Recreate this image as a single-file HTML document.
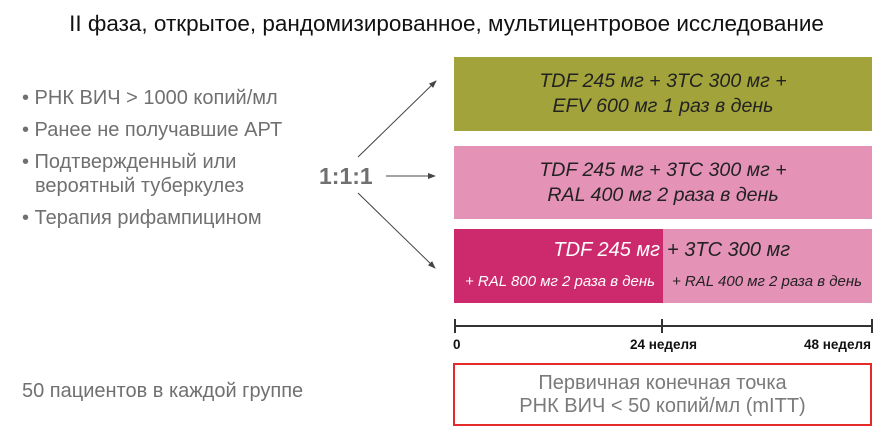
<!DOCTYPE html>
<html><head><meta charset="utf-8"><style>
body{margin:0;width:883px;height:437px;background:#fff;position:relative;overflow:hidden;font-family:"Liberation Sans","DejaVu Sans",sans-serif}
.a{position:absolute;white-space:nowrap}
.box{position:absolute;left:454px;width:418px;}
.bt{position:absolute;width:100%;text-align:center;font-style:italic;font-size:19.6px;color:#222;line-height:25px}
.g{color:#707070;font-size:20px}
</style></head><body>
<div class="a" style="left:0;width:893px;text-align:center;top:11px;font-size:22.5px;color:#111">II фаза, открытое, рандомизированное, мультицентровое исследование</div>

<div class="a g" style="left:22px;top:87px">• РНК ВИЧ &gt; 1000 копий/мл</div>
<div class="a g" style="left:22px;top:119px">• Ранее не получавшие АРТ</div>
<div class="a g" style="left:22px;top:151px">• Подтвержденный или</div>
<div class="a g" style="left:35px;top:175px">вероятный туберкулез</div>
<div class="a g" style="left:22px;top:207px">• Терапия рифампицином</div>
<div class="a" style="left:319px;top:163px;font-size:23px;font-weight:bold;color:#707070">1:1:1</div>
<div class="a g" style="left:22px;top:380px">50 пациентов в каждой группе</div>

<svg class="a" style="left:0;top:0" width="883" height="437">
<defs><marker id="m" markerWidth="8" markerHeight="8" refX="7" refY="4" orient="auto" markerUnits="userSpaceOnUse"><path d="M0,1 L8,4 L0,7z" fill="#444"/></marker></defs>
<g stroke="#444" stroke-width="1">
<line x1="358" y1="157" x2="436" y2="81" marker-end="url(#m)"/>
<line x1="386" y1="176" x2="435" y2="176" marker-end="url(#m)"/>
<line x1="358" y1="193" x2="435" y2="268" marker-end="url(#m)"/>
</g>
<g stroke="#333" stroke-width="2">
<line x1="455" y1="326" x2="872" y2="326"/>
<line x1="455" y1="319" x2="455" y2="333"/>
<line x1="662" y1="319" x2="662" y2="333"/>
<line x1="872" y1="319" x2="872" y2="333"/>
</g>
</svg>

<div class="box" style="top:57px;height:74px;background:#a2a43b"><div class="bt" style="top:12px">TDF 245 мг + 3TC 300 мг +<br>EFV 600 мг 1 раз в день</div></div>
<div class="box" style="top:146px;height:73px;background:#e592b7"><div class="bt" style="top:12px">TDF 245 мг + 3TC 300 мг +<br>RAL 400 мг 2 раза в день</div></div>
<div class="box" style="top:229px;height:74px;background:#e592b7">
<div style="position:absolute;left:0;top:0;width:209px;height:74px;background:#cc2a6c"></div>
<div class="a" style="right:212px;top:10px;font-style:italic;font-size:20px;color:#fff">TDF 245 мг</div>
<div class="a" style="left:213px;top:10px;font-style:italic;font-size:20px;color:#222">+ 3TC 300 мг</div>
<div class="a" style="left:11px;top:44px;font-style:italic;font-size:15px;color:#fff">+ RAL 800 мг 2 раза в день</div>
<div class="a" style="left:218px;top:44px;font-style:italic;font-size:15px;color:#222">+ RAL 400 мг 2 раза в день</div>
</div>

<div class="a" style="left:453px;top:337px;font-size:13.5px;font-weight:bold;color:#111">0</div>
<div class="a" style="left:630px;top:337px;font-size:13.5px;font-weight:bold;color:#111">24 неделя</div>
<div class="a" style="left:804px;top:337px;font-size:13.5px;font-weight:bold;color:#111">48 неделя</div>

<div class="a" style="left:453px;top:363px;width:415px;border:2px solid #e52a2a;text-align:center;color:#7a7a7a;font-size:20px;line-height:23px;padding-top:7px;box-sizing:content-box;height:52px">Первичная конечная точка<br>РНК ВИЧ &lt; 50 копий/мл (mITT)</div>
</body></html>
